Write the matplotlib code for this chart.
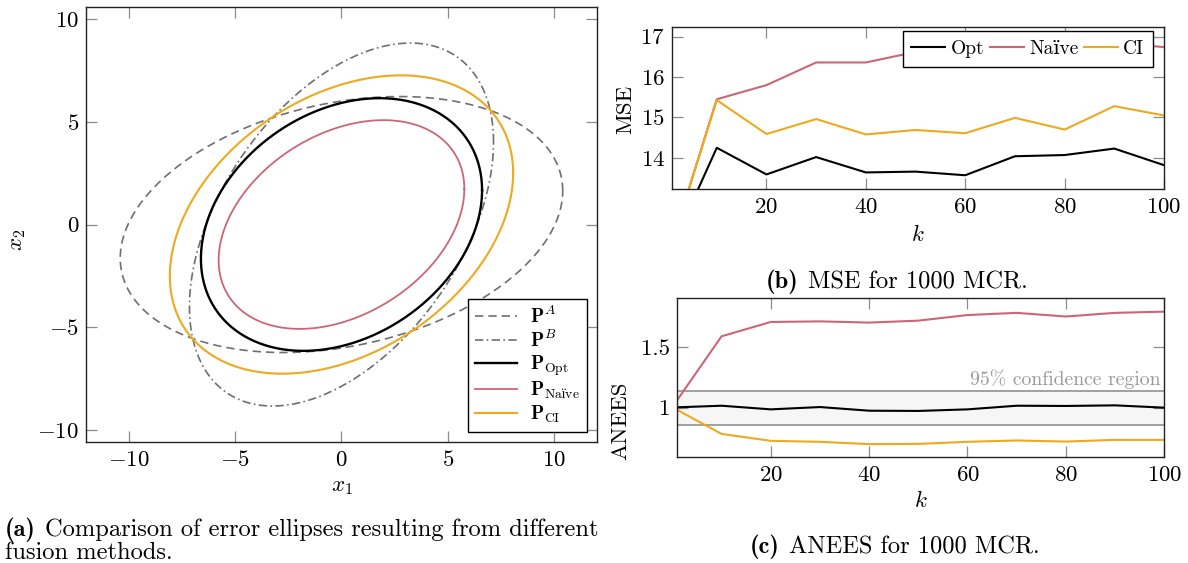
import numpy as np
import matplotlib
matplotlib.use("Agg")
import matplotlib.pyplot as plt

plt.rcParams['font.family'] = ['cmr10', 'DejaVu Serif']
plt.rcParams['mathtext.fontset'] = 'cm'
plt.rcParams['axes.formatter.use_mathtext'] = True
plt.rcParams['axes.unicode_minus'] = True

# error ellipses (scaled covariance matrices, centred at origin)
P_A = [[108.0, 17.0], [17.0, 38.8]]
P_B = [[51.0, 28.6], [28.6, 78.0]]
P_opt = [[43.6, 11.0], [11.0, 37.8]]
P_naive = [[33.3, 10.0], [10.0, 25.8]]
P_ci = [[65.0, 20.2], [20.2, 52.7]]

# MSE / ANEES over k
k = [1, 10, 20, 30, 40, 50, 60, 70, 80, 90, 100]
mse_opt = [11.8, 14.25, 13.59, 14.02, 13.64, 13.66, 13.57, 14.04, 14.07, 14.23, 13.82]
mse_naive = [11.9, 15.45, 15.80, 16.36, 16.36, 16.62, 16.75, 16.80, 16.32, 16.85, 16.74]
mse_ci = [11.9, 15.43, 14.59, 14.96, 14.58, 14.69, 14.61, 14.99, 14.70, 15.28, 15.05]

anees_opt = [1.003, 1.016, 0.986, 1.005, 0.975, 0.973, 0.986, 1.016, 1.014, 1.019, 1.0]
anees_naive = [1.063, 1.587, 1.705, 1.71, 1.70, 1.716, 1.762, 1.78, 1.75, 1.78, 1.79]
anees_ci = [0.981, 0.784, 0.727, 0.719, 0.70, 0.702, 0.719, 0.73, 0.721, 0.735, 0.735]
conf_lo, conf_hi = 0.858, 1.137

red = '#cc6677'
yellow = '#efa91e'
gray = '#6f6f6f'
tickc = '#8c8c8c'

fig = plt.figure(figsize=(11.88, 5.63), dpi=100)
ax1 = fig.add_axes([0.0724, 0.2154, 0.4301, 0.7716])
ax2 = fig.add_axes([0.5657, 0.6643, 0.4141, 0.2872])
ax3 = fig.add_axes([0.5701, 0.1874, 0.4099, 0.2828])


def ellipse(P):
    L = np.linalg.cholesky(np.array(P))
    t = np.linspace(0, 2 * np.pi, 400)
    pts = L @ np.vstack([np.cos(t), np.sin(t)])
    return pts[0], pts[1]


x, y = ellipse(P_A)
ax1.plot(x, y, color=gray, lw=1.2, ls=(0, (5, 3)), label=r'$\mathbf{P}^{A}$')
x, y = ellipse(P_B)
ax1.plot(x, y, color=gray, lw=1.2, ls=(0, (5, 2, 1, 2)), label=r'$\mathbf{P}^{B}$')
x, y = ellipse(P_opt)
ax1.plot(x, y, color='black', lw=1.7, label=r'$\mathbf{P}_{\mathrm{Opt}}$')
x, y = ellipse(P_naive)
ax1.plot(x, y, color=red, lw=1.3, label=r'$\mathbf{P}_{\mathrm{Naïve}}$')
x, y = ellipse(P_ci)
ax1.plot(x, y, color=yellow, lw=1.5, label=r'$\mathbf{P}_{\mathrm{CI}}$')
ax1.set_xlim(-12, 12)
ax1.set_ylim(-10.57, 10.57)
ax1.set_xticks([-10, -5, 0, 5, 10])
ax1.set_yticks([-10, -5, 0, 5, 10])
ax1.set_xlabel(r'$x_1$', fontsize=16.5, va='center')
ax1.set_ylabel(r'$x_2$', fontsize=16.5, va='center')
ax1.xaxis.set_label_coords(0.5, -0.104)
ax1.yaxis.set_label_coords(-0.133, 0.464)
leg = ax1.legend(loc='lower right', bbox_to_anchor=(1 - 10 / 511, 10 / 434),
                 fontsize=14, frameon=True, fancybox=False,
                 edgecolor='black', framealpha=1, handlelength=2.15,
                 labelspacing=0.12, borderaxespad=0, borderpad=0.35, handletextpad=0.7)
leg.get_frame().set_linewidth(1.0)

ax2.plot(k, mse_opt, color='black', lw=1.5, label='Opt')
ax2.plot(k, mse_naive, color=red, lw=1.5, label='Naïve')
ax2.plot(k, mse_ci, color=yellow, lw=1.5, label='CI')
ax2.set_xlim(1, 100)
ax2.set_ylim(13.23, 17.23)
ax2.set_xticks([20, 40, 60, 80, 100])
ax2.set_yticks([14, 15, 16, 17])
ax2.set_ylabel('MSE', fontsize=16.5, va='center')
ax2.set_xlabel(r'$k$', fontsize=16.5, va='center')
ax2.yaxis.set_label_coords(-0.095, 0.49)
ax2.xaxis.set_label_coords(0.5, -0.284)
leg2 = ax2.legend(loc='upper right', bbox_to_anchor=(1 - 11 / 492, 1 - 4 / 162),
                  ncol=3, fontsize=14, frameon=True, fancybox=False,
                  edgecolor='black', framealpha=1, handlelength=1.75, columnspacing=0.3,
                  handletextpad=0.26, borderaxespad=0, borderpad=0.45)
leg2.get_frame().set_linewidth(1.0)

ax3.axhspan(conf_lo, conf_hi, color='#f6f6f6', lw=0)
ax3.axhline(conf_lo, color='#999999', lw=1.3)
ax3.axhline(conf_hi, color='#999999', lw=1.3)
ax3.text(99.3, 1.232, '95% confidence region', color='#9a9a9a', fontsize=14.2,
         ha='right', va='center')
ax3.plot(k, anees_naive, color=red, lw=1.5)
ax3.plot(k, anees_opt, color='black', lw=1.5)
ax3.plot(k, anees_ci, color=yellow, lw=1.5)
ax3.set_xlim(1, 100)
ax3.set_ylim(0.59, 1.9)
ax3.set_xticks([20, 40, 60, 80, 100])
ax3.set_yticks([1, 1.5])
ax3.set_yticklabels(['1', '1.5'])
ax3.set_ylabel('ANEES', fontsize=16.5, va='center')
ax3.set_xlabel(r'$k$', fontsize=16.5, va='center')
ax3.yaxis.set_label_coords(-0.117, 0.23)
ax3.xaxis.set_label_coords(0.5, -0.267)

for ax in (ax1, ax2, ax3):
    ax.tick_params(direction='in', top=True, right=True, length=8, width=0.9,
                   color=tickc, labelsize=16.5, pad=6)
    ax.tick_params(axis='y', pad=5)
    for s in ax.spines.values():
        s.set_linewidth(1.0)
        s.set_color('#222222')

# captions: bold tag + regular text
cap_fs = 17.6
captions = [
    ('(a)', 'Comparison of error ellipses resulting from different', 5, 530, 'left'),
    ('(b)', 'MSE for 1000 MCR.', 897, 282, 'center'),
    ('(c)', 'ANEES for 1000 MCR.', 895, 547, 'center'),
]
pairs = []
for tag, rest, px, py, align in captions:
    t1 = fig.text(px / 1188, 1 - py / 563, tag, fontsize=cap_fs, family='cmb10',
                  ha='left', va='center')
    t2 = fig.text(px / 1188, 1 - py / 563, rest, fontsize=cap_fs, ha='left', va='center')
    pairs.append((t1, t2, px, align))
fig.text(5 / 1188, 1 - 553 / 563, 'fusion methods.', fontsize=cap_fs, ha='left', va='center')

fig.canvas.draw()
r = fig.canvas.get_renderer()
gap = 9
for t1, t2, px, align in pairs:
    w1 = t1.get_window_extent(r).width
    w2 = t2.get_window_extent(r).width
    x0 = px if align == 'left' else px - (w1 + gap + w2) / 2
    t1.set_x(x0 / 1188)
    t2.set_x((x0 + w1 + gap) / 1188)

fig.savefig('out.png', dpi=100)
